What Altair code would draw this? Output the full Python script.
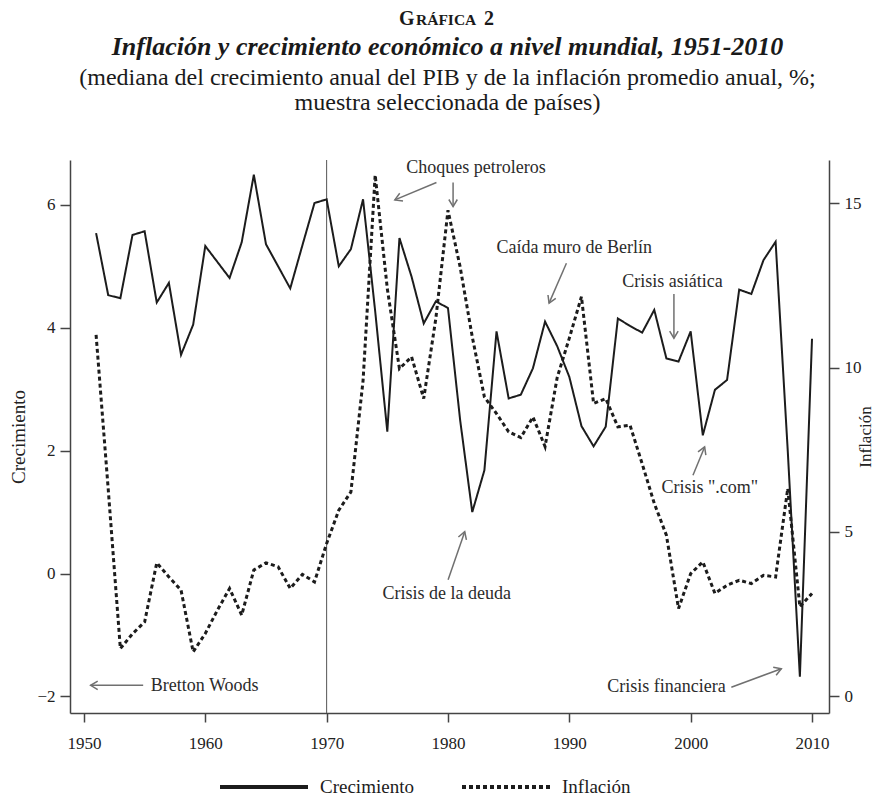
import math
import altair as alt
import pandas as pd

# ---------------- data ----------------
years = list(range(1951, 2011))
crecimiento = [5.54, 4.53, 4.48, 5.51, 5.57, 4.41, 4.73, 3.56, 4.05, 5.33,
               5.07, 4.81, 5.39, 6.49, 5.36, 5.00, 4.64, 5.34, 6.03, 6.09,
               5.00, 5.28, 6.09, 4.27, 2.31, 5.46, 4.83, 4.07, 4.43, 4.32,
               2.50, 1.00, 1.68, 3.94, 2.85, 2.91, 3.34, 4.10, 3.70, 3.20,
               2.40, 2.07, 2.39, 4.15, 4.03, 3.92, 4.29, 3.50, 3.45, 3.94,
               2.25, 2.99, 3.15, 4.62, 4.55, 5.10, 5.40, 2.00, -1.68, 3.82]
inflacion = [11.0, 6.3, 1.45, 1.90, 2.26, 4.06, 3.63, 3.23, 1.35, 1.91,
             2.62, 3.28, 2.47, 3.84, 4.06, 3.94, 3.28, 3.71, 3.48, 4.65,
             5.66, 6.22, 9.60, 15.86, 12.40, 9.97, 10.33, 9.06, 11.50, 14.79,
             13.07, 10.94, 9.11, 8.60, 8.05, 7.87, 8.50, 7.60, 9.70, 10.90,
             12.16, 8.91, 9.06, 8.20, 8.25, 7.08, 5.87, 4.90, 2.67, 3.73,
             4.09, 3.13, 3.38, 3.53, 3.43, 3.68, 3.63, 6.32, 2.72, 3.13]

series_names = ["Crecimiento", "Inflación"]
x_ticks = [1950, 1960, 1970, 1980, 1990, 2000, 2010]
left_ticks = [-2, 0, 2, 4, 6]
right_ticks = [0, 5, 10, 15]
marker_year = [1970]

ann_text = ["Choques petroleros", "Caída muro de Berlín", "Crisis asiática",
            'Crisis ".com"', "Crisis de la deuda", "Bretton Woods", "Crisis financiera"]
ann_year = [1982.3, 1990.4, 1998.5, 2001.57, 1979.9, 1959.94, 1998.0]
ann_val = [6.60, 5.30, 4.75, 1.39, -0.34, -1.83, -1.85]

arrow_x1 = [1979.05, 1980.42, 1989.76, 1998.62, 2000.19, 1980.01, 1954.88, 2003.35]
arrow_y1 = [6.363, 6.363, 5.05, 4.55, 1.60, -0.10, -1.82, -1.85]
arrow_x2 = [1975.62, 1980.42, 1988.33, 1998.62, 2001.15, 1981.38, 1950.55, 2007.47]
arrow_y2 = [6.081, 5.972, 4.40, 3.83, 2.06, 0.68, -1.82, -1.55]

# "GRÁFICA 2" set in small caps: large initial, small-cap body, large number
kicker_parts = ["G", "RÁFICA", "2"]
title_lines = [
    "Inflación y crecimiento económico a nivel mundial, 1951-2010",
    "(mediana del crecimiento anual del PIB y de la inflación promedio anual, %;",
    "muestra seleccionada de países)",
]

# ---------------- layout / style ----------------
W, H = 759, 553
x_dom = [1948.85, 2011.4]
yl_dom = [-2.27, 6.73]
yr_dom = [-0.51, 16.32]
FONT = "Liberation Serif"
INK = "#1c1c1c"
GREY = "#707070"

df_g = pd.DataFrame({"year": years, "valor": crecimiento, "serie": series_names[0]})
df_i = pd.DataFrame({"year": years, "valor": inflacion, "serie": series_names[1]})
df_ann = pd.DataFrame({"year": ann_year, "valor": ann_val, "label": ann_text})

sx = W / (x_dom[1] - x_dom[0])
sy = H / (yl_dom[1] - yl_dom[0])
angles = [math.degrees(math.atan2(-(b2 - b1) * sy, (a2 - a1) * sx)) % 360
          for a1, b1, a2, b2 in zip(arrow_x1, arrow_y1, arrow_x2, arrow_y2)]
df_arr = pd.DataFrame({"year": arrow_x1, "valor": arrow_y1,
                       "year2": arrow_x2, "valor2": arrow_y2, "ang": angles})

xscale = alt.Scale(domain=x_dom, nice=False, zero=False)
xaxis = alt.Axis(values=x_ticks, format="d", title=None, tickSize=9,
                 labelPadding=13, labelFontSize=17)
xenc = alt.X("year:Q", scale=xscale, axis=xaxis)

ylscale = alt.Scale(domain=yl_dom, nice=False, zero=False)
ylaxis = alt.Axis(values=left_ticks, orient="left", title="Crecimiento",
                  titleAngle=270, titleX=-52, titleY=H / 2, titleAlign="center",
                  titleBaseline="middle", titleFontSize=19, titleFontWeight="normal",
                  tickSize=10, labelPadding=5, labelFontSize=17)
ylenc = alt.Y("valor:Q", scale=ylscale, axis=ylaxis)

yrscale = alt.Scale(domain=yr_dom, nice=False, zero=False)
yraxis = alt.Axis(values=right_ticks, orient="right", title="Inflación",
                  titleAngle=270, titleX=36, titleY=H / 2, titleAlign="center",
                  titleBaseline="middle", titleFontSize=17, titleFontWeight="normal",
                  tickSize=10, labelPadding=5, labelFontSize=17)

dash_scale = alt.Scale(domain=series_names, range=[[1, 0], [4, 3]])
legend = alt.Legend(title=None, orient="none", legendX=148, legendY=581,
                    direction="horizontal", symbolType="stroke", symbolSize=7744,
                    symbolStrokeWidth=4, symbolStrokeColor=INK, labelFont=FONT,
                    labelFontSize=19, labelColor=INK, labelOffset=10,
                    columnPadding=40, padding=0)

# ---------------- layers ----------------
vline = alt.Chart(pd.DataFrame({"year": marker_year})).mark_rule(
    color="#555555", strokeWidth=1).encode(x=xenc)

growth = alt.Chart(df_g).mark_line(color=INK, strokeWidth=2).encode(
    x=xenc, y=ylenc,
    strokeDash=alt.StrokeDash("serie:N", scale=dash_scale, legend=legend))

rules = alt.Chart(df_arr).mark_rule(color=GREY, strokeWidth=1.5).encode(
    x=xenc, y=ylenc, x2="year2:Q", y2="valor2:Q")

heads = alt.Chart(df_arr).mark_point(
    shape="M -1 -0.6 L 0 0 L -1 0.6", filled=False, size=200,
    strokeWidth=1.5, color=GREY, opacity=1).encode(
    x=alt.X("year2:Q", scale=xscale, axis=xaxis),
    y=alt.Y("valor2:Q", scale=ylscale, axis=ylaxis),
    angle=alt.Angle("ang:Q", scale=None))

texts = alt.Chart(df_ann).mark_text(font=FONT, fontSize=18, color="#2b2b2b").encode(
    x=xenc, y=ylenc, text="label:N")

left = alt.layer(vline, growth, rules, heads, texts)

infl = alt.Chart(df_i).mark_line(color=INK, strokeWidth=3, strokeCap="butt").encode(
    x=xenc,
    y=alt.Y("valor:Q", scale=yrscale, axis=yraxis),
    strokeDash=alt.StrokeDash("serie:N", scale=dash_scale, legend=legend))

# kicker in small caps
kick_sizes = [20, 15.5, 20]
kick_x = [329, 346, 414]
kick_layers = []
for part, fs, kx in zip(kicker_parts, kick_sizes, kick_x):
    kick_layers.append(
        alt.Chart(pd.DataFrame({"t": [part]})).mark_text(
            font=FONT, fontSize=fs, fontWeight="bold", color="#1a1a1a",
            baseline="alphabetic", align="left").encode(
            x=alt.value(kx), y=alt.value(-135), text="t:N"))

title_styles = [
    dict(fontSize=26, fontWeight="bold", fontStyle="italic", dy=-113),
    dict(fontSize=24, fontWeight="normal", fontStyle="normal", dy=-82),
    dict(fontSize=24, fontWeight="normal", fontStyle="normal", dy=-57),
]
title_layers = []
for line, st in zip(title_lines, title_styles):
    title_layers.append(
        alt.Chart(pd.DataFrame({"t": [line]})).mark_text(
            font=FONT, fontSize=st["fontSize"], fontWeight=st["fontWeight"],
            fontStyle=st["fontStyle"], color="#1a1a1a", baseline="middle",
            align="center").encode(
            x=alt.value(W / 2 - 2), y=alt.value(st["dy"]), text="t:N"))

chart = alt.layer(left, infl, *kick_layers, *title_layers).resolve_scale(
    y="independent", strokeDash="shared"
).properties(
    width=W, height=H,
    padding={"left": 62, "top": 152, "right": 48, "bottom": 84},
    autosize=alt.AutoSizeParams(type="none"),
).configure_view(stroke=None).configure_axis(
    grid=False, domainColor="#444444", domainWidth=1.5, tickColor="#444444",
    tickWidth=1.5, labelColor="#222222", titleColor="#222222",
    labelFont=FONT, titleFont=FONT,
).configure_text(font=FONT)

chart.save("out.html", embed_options={"renderer": "svg", "actions": False})
